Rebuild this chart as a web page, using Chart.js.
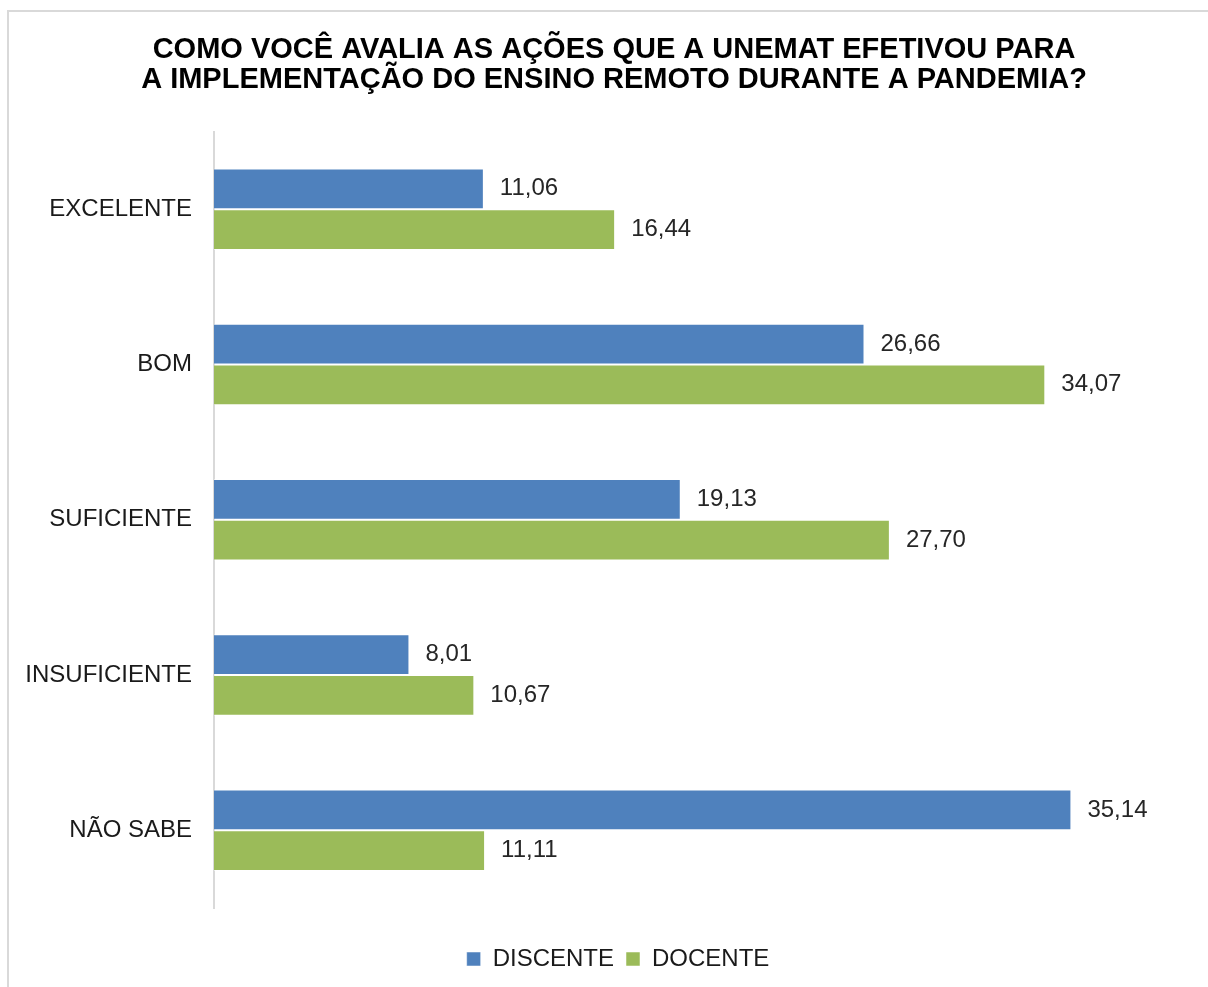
<!DOCTYPE html>
<html>
<head>
<meta charset="utf-8">
<script src="https://cdn.jsdelivr.net/npm/chart.js@4/dist/chart.umd.min.js"></script>
<style>
  html, body { margin: 0; padding: 0; background: #ffffff; }
  #wrap { position: relative; width: 1208px; height: 987px; overflow: hidden; }
  #frame { position: absolute; left: 7px; top: 10px; width: 1300px; height: 1100px;
           border-left: 2px solid #d9d9d9; border-top: 2px solid #d9d9d9; box-sizing: border-box; }
  canvas { position: absolute; left: 0; top: 0; }
</style>
</head>
<body>
<div id="wrap">
  <div id="frame"></div>
  <canvas id="c" width="1208" height="987"></canvas>
</div>
<script>
const categories = ["EXCELENTE", "BOM", "SUFICIENTE", "INSUFICIENTE", "NÃO SABE"];
const discente = [11.06, 26.66, 19.13, 8.01, 35.14];
const docente = [16.44, 34.07, 27.70, 10.67, 11.11];
const seriesNames = ["DISCENTE", "DOCENTE"];
const titleLines = ["COMO VOCÊ AVALIA AS AÇÕES QUE A UNEMAT EFETIVOU PARA",
                    "A IMPLEMENTAÇÃO DO ENSINO REMOTO DURANTE A PANDEMIA?"];

const FONT = "'Liberation Sans', Arial, sans-serif";

const valueLabels = {
  id: 'valueLabels',
  afterDatasetsDraw(chart) {
    const ctx = chart.ctx;
    ctx.save();
    ctx.font = "24px " + FONT;
    ctx.fillStyle = "#262626";
    ctx.textAlign = "left";
    ctx.textBaseline = "middle";
    chart.data.datasets.forEach((ds, i) => {
      const meta = chart.getDatasetMeta(i);
      meta.data.forEach((el, j) => {
        const txt = ds.data[j].toFixed(2).replace('.', ',');
        ctx.fillText(txt, el.x + 16, el.y);
      });
    });
    ctx.restore();
  }
};

const blockShift = {
  id: 'blockShift',
  afterLayout(chart) {
    if (chart.legend) {
      chart.legend.left += 23;
      chart.legend.right += 23;
    }
    if (chart.titleBlock) {
      chart.titleBlock.left += 19;
      chart.titleBlock.right += 19;
    }
  }
};

new Chart(document.getElementById('c'), {
  type: 'bar',
  data: {
    labels: categories,
    datasets: [
      { label: seriesNames[0], data: discente, backgroundColor: '#4F81BD',
        borderColor: 'rgba(255,255,255,0.5)', borderWidth: 1, borderSkipped: 'left' },
      { label: seriesNames[1], data: docente, backgroundColor: '#9BBB59',
        borderColor: 'rgba(255,255,255,0.5)', borderWidth: 1, borderSkipped: 'left' }
    ]
  },
  options: {
    indexAxis: 'y',
    responsive: false,
    animation: false,
    devicePixelRatio: 1,
    categoryPercentage: 0.525,
    barPercentage: 1.0,
    layout: { padding: { left: 0, right: 18, top: 0, bottom: 6 } },
    scales: {
      x: {
        display: true, min: 0, max: 40,
        grid: { display: false, drawTicks: false },
        border: { display: false },
        ticks: { display: false },
        afterFit(scale) { scale.height = 27; }
      },
      y: {
        grid: { display: false, drawTicks: false },
        border: { display: true, color: '#d9d9d9', width: 2 },
        ticks: { color: '#1a1a1a', font: { family: FONT, size: 24 }, padding: 22 },
        afterFit(scale) { scale.width = 214; }
      }
    },
    plugins: {
      title: {
        display: true,
        text: titleLines,
        color: '#000000',
        font: { family: FONT, size: 29, weight: 'bold', lineHeight: 1.05 },
        padding: { top: 34.75, bottom: 35.85 }
      },
      legend: {
        position: 'bottom',
        labels: {
          color: '#1a1a1a',
          font: { family: FONT, size: 24 },
          boxWidth: 14, boxHeight: 14,
          padding: 12
        }
      },
      tooltip: { enabled: false }
    }
  },
  plugins: [valueLabels, blockShift]
});
</script>
</body>
</html>
